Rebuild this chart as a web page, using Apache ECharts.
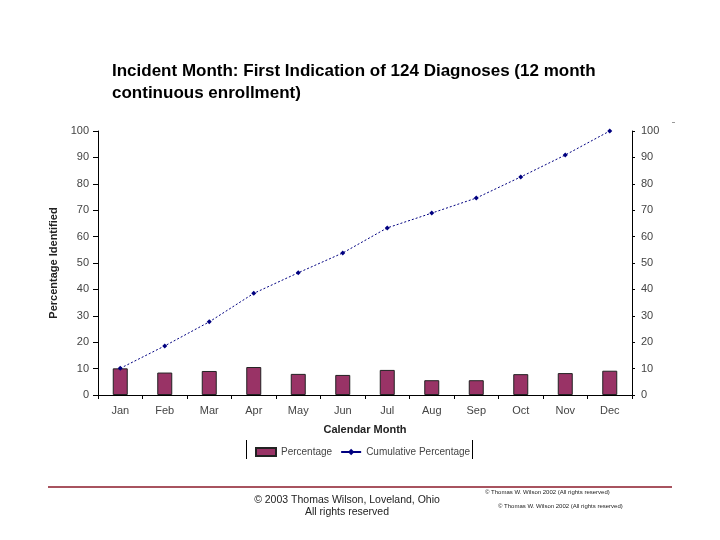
<!DOCTYPE html>
<html><head><meta charset="utf-8">
<script src="https://cdn.jsdelivr.net/npm/echarts@6/dist/echarts.min.js"></script>
<style>html,body{margin:0;padding:0;background:#fff}#c{width:720px;height:540px}</style>
</head><body><div id="c"></div>
<script>
var months = ['Jan','Feb','Mar','Apr','May','Jun','Jul','Aug','Sep','Oct','Nov','Dec'];
var percentage = [10.1, 8.5, 9.1, 10.6, 8.0, 7.6, 9.5, 5.6, 5.6, 7.9, 8.3, 9.2];
var cumulative = [10.1, 18.6, 27.7, 38.5, 46.3, 53.8, 63.3, 68.9, 74.6, 82.6, 90.9, 100];
var yTicks = [0,10,20,30,40,50,60,70,80,90,100];

var FONT = '"Liberation Sans", Arial, sans-serif';
var chart = echarts.init(document.getElementById('c'), null, {renderer:'canvas'});
var axisLbl = {color:'#444', fontSize:11, fontFamily:FONT};
chart.setOption({
  backgroundColor:'#fff',
  animation:false,
  grid:{left:98, right:88, top:131, bottom:145},
  legend:{
    left:250, top:442, itemGap:8, itemWidth:20, itemHeight:8,
    textStyle:{fontSize:10, color:'#444', fontFamily:FONT},
    data:[{name:'Percentage', icon:'rect'}, {name:'Cumulative Percentage', lineStyle:{type:'solid'}}]
  },
  xAxis:{
    type:'category', data:months,
    name:'Calendar Month', nameLocation:'middle', nameGap:29,
    nameTextStyle:{fontWeight:'bold', fontSize:11, color:'#222', fontFamily:FONT},
    axisLine:{lineStyle:{color:'#000'}},
    axisTick:{show:true, length:4, lineStyle:{color:'#000'}},
    axisLabel:Object.assign({margin:10}, axisLbl)
  },
  yAxis:[{
    type:'value', min:0, max:100, interval:10, position:'left',
    name:'Percentage Identified', nameLocation:'middle', nameGap:35,
    nameTextStyle:{fontWeight:'bold', fontSize:11, color:'#222', fontFamily:FONT},
    axisLine:{show:true, lineStyle:{color:'#000'}},
    axisTick:{show:true, length:5, lineStyle:{color:'#000'}},
    splitLine:{show:false},
    axisLabel:Object.assign({margin:9, formatter:function(v){return yTicks.indexOf(v)>=0?String(v):'';}}, axisLbl)
  },{
    type:'value', min:0, max:100, interval:10, position:'right',
    axisLine:{show:true, lineStyle:{color:'#000'}},
    axisTick:{show:true, length:3, lineStyle:{color:'#000'}},
    splitLine:{show:false},
    axisLabel:Object.assign({margin:9}, axisLbl)
  }],
  series:[{
    name:'Percentage', type:'bar', data:percentage, barWidth:15, yAxisIndex:0,
    itemStyle:{color:'#993366', borderColor:'#222', borderWidth:1}
  },{
    name:'Cumulative Percentage', type:'line', data:cumulative, yAxisIndex:0,
    symbol:'diamond', symbolSize:5,
    lineStyle:{color:'#000080', width:1, type:[2,2]},
    itemStyle:{color:'#000080'}
  }],
  graphic:[
    {type:'text', left:112, top:60, style:{text:'Incident Month: First Indication of 124 Diagnoses (12 month\ncontinuous enrollment)', font:'bold 17px '+FONT, fill:'#000', lineHeight:22}},
    {type:'line', shape:{x1:246.5, y1:440, x2:246.5, y2:459}, style:{stroke:'#000', lineWidth:1}},
    {type:'line', shape:{x1:472.5, y1:440, x2:472.5, y2:459}, style:{stroke:'#000', lineWidth:1}},
    {type:'line', shape:{x1:48, y1:487, x2:672, y2:487}, style:{stroke:'#8b1a2a', lineWidth:1.5}},
    {type:'line', shape:{x1:672, y1:122.5, x2:675, y2:122.5}, style:{stroke:'#999', lineWidth:1}},
    {type:'text', x:347, y:494, style:{text:'\u00a9 2003 Thomas Wilson, Loveland, Ohio\nAll rights reserved', font:'10.5px '+FONT, fill:'#222', align:'center', lineHeight:12}},
    {type:'text', x:485, y:489, style:{text:'\u00a9 Thomas W. Wilson 2002 (All rights reserved)', font:'6px '+FONT, fill:'#222'}},
    {type:'text', x:498, y:503, style:{text:'\u00a9 Thomas W. Wilson 2002 (All rights reserved)', font:'6px '+FONT, fill:'#222'}}
  ]
});
</script></body></html>
